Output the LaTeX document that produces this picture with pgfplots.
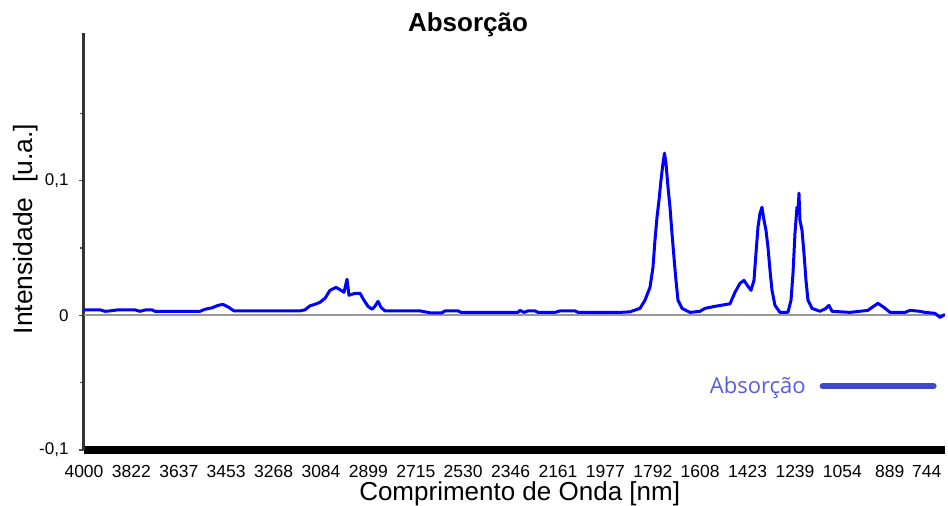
\documentclass[border=0pt]{standalone}
\usepackage{fontspec}
\setmainfont{Liberation Sans}
\newfontfamily\legfont{Open Sans}
\usepackage{pgfplots}
\pgfplotsset{compat=1.18}
\definecolor{legblue}{HTML}{4049C9}
\definecolor{legtext}{HTML}{5A5AE0}
\begin{document}
\begin{tikzpicture}
\path[use as bounding box] (0,0) rectangle (948pt,506pt);
\begin{axis}[
  at={(84pt,56pt)}, anchor=south west,
  scale only axis, width=861pt, height=417pt,
  xmin=0, xmax=18.165, ymin=-0.1, ymax=0.2097,
  axis x line*=bottom, axis y line*=left,
  x axis line style={line width=8pt, black, -},
  y axis line style={line width=3pt, black!80, -},
  xtick={0,1,2,3,4,5,6,7,8,9,10,11,12,13,14,15,16,17,17.78},
  xticklabels={4000,3822,3637,3453,3268,3084,2899,2715,2530,2346,2161,1977,1792,1608,1423,1239,1054,889,744},
  xtick style={draw=none},
  xticklabel style={anchor=base, yshift=-22pt, font=\fontsize{17.5}{20}\selectfont},
  ytick={-0.1,0,0.1},
  yticklabels={{-0,1},0,{0,1}},
  minor ytick={-0.05,0.05,0.15},
  ytick style={line width=1.5pt, black!70},
  tick align=outside, major tick length=5pt, minor tick length=4pt,
  yticklabel style={font=\fontsize{17}{20}\selectfont, xshift=-7pt},
  /pgf/number format/assume math mode=true,
  extra y ticks={0}, extra y tick labels={},
  extra y tick style={grid=major, major grid style={line width=2pt, black!40}, tick style={draw=none}},
  xlabel={Comprimento de Onda [nm]},
  xlabel style={at={(axis description cs:0.506,-0.105)}, anchor=center, font=\fontsize{26}{30}\selectfont},
  ylabel={Intensidade\ \ [u.a.]},
  ylabel style={at={(axis description cs:-0.0674,0.530)}, anchor=center, rotate=0, font=\fontsize{26.5}{30}\selectfont},
  title={Absorção},
  title style={at={(axis description cs:0.446,1.006)}, anchor=center, font=\bfseries\fontsize{26}{30}\selectfont},
  legend plot pos=right,
  legend style={draw=none, fill=none, at={(axis description cs:0.994,0.153)}, anchor=east,
    font=\legfont\fontsize{22}{26}\selectfont, text=legtext},
  legend image code/.code={\path (0pt,0pt); \draw[#1] (12pt,0pt) -- (123pt,0pt);},
]
\addplot[blue, line width=3pt, line join=round, forget plot] coordinates {
(0,0.0041) (0.338,0.0041) (0.443,0.0030) (0.549,0.0033) (0.717,0.0041) (1.076,0.0041)
(1.181,0.0030) (1.308,0.0041) (1.435,0.0041) (1.498,0.0030) (2.447,0.0030) (2.553,0.0045)
(2.700,0.0056) (2.827,0.0074) (2.932,0.0082) (3.038,0.0063) (3.165,0.0033) (4.557,0.0033)
(4.662,0.0041) (4.768,0.0071) (4.873,0.0082) (4.979,0.0097) (5.084,0.0126) (5.190,0.0186)
(5.316,0.0208) (5.422,0.0186) (5.485,0.0171) (5.549,0.0268) (5.591,0.0149) (5.717,0.0164)
(5.823,0.0164) (5.907,0.0112) (5.992,0.0067) (6.076,0.0045) (6.139,0.0067) (6.203,0.0104)
(6.266,0.0059) (6.350,0.0033) (7.089,0.0033) (7.300,0.0019) (7.553,0.0019) (7.616,0.0033)
(7.890,0.0033) (7.954,0.0022) (9.156,0.0022) (9.198,0.0037) (9.283,0.0022) (9.367,0.0033)
(9.515,0.0033) (9.578,0.0022) (9.937,0.0022) (10.042,0.0033) (10.359,0.0033) (10.422,0.0022)
(11.308,0.0022) (11.519,0.0026) (11.730,0.0052) (11.835,0.0112) (11.941,0.0208) (12.004,0.0357)
(12.046,0.0558) (12.089,0.0729) (12.131,0.0855) (12.173,0.1004) (12.215,0.1130) (12.247,0.1204)
(12.278,0.1130) (12.321,0.0952) (12.363,0.0803) (12.405,0.0610) (12.447,0.0431) (12.489,0.0260)
(12.532,0.0112) (12.616,0.0052) (12.785,0.0022) (12.996,0.0030) (13.101,0.0052) (13.312,0.0067)
(13.629,0.0086) (13.734,0.0171) (13.840,0.0238) (13.924,0.0260) (14.008,0.0216) (14.072,0.0186)
(14.135,0.0260) (14.177,0.0461) (14.219,0.0654) (14.262,0.0758) (14.304,0.0803) (14.346,0.0706)
(14.388,0.0632) (14.430,0.0506) (14.473,0.0335) (14.515,0.0186) (14.578,0.0074) (14.684,0.0022)
(14.852,0.0022) (14.916,0.0112) (14.958,0.0312) (15.000,0.0610) (15.042,0.0803) (15.063,0.0758)
(15.084,0.0907) (15.105,0.0706) (15.148,0.0632) (15.190,0.0461) (15.232,0.0260) (15.274,0.0112)
(15.359,0.0052) (15.527,0.0030) (15.654,0.0052) (15.717,0.0074) (15.781,0.0030) (16.160,0.0022)
(16.540,0.0037) (16.624,0.0059) (16.751,0.0089) (16.878,0.0059) (17.004,0.0022) (17.321,0.0022)
(17.426,0.0037) (17.637,0.0030) (17.743,0.0022) (17.954,0.0015) (18.059,-0.0015) (18.165,0.0007)
};
\addlegendimage{line width=6pt, legblue, line cap=round}
\addlegendentry{Absorção}
\end{axis}
\end{tikzpicture}
\end{document}
